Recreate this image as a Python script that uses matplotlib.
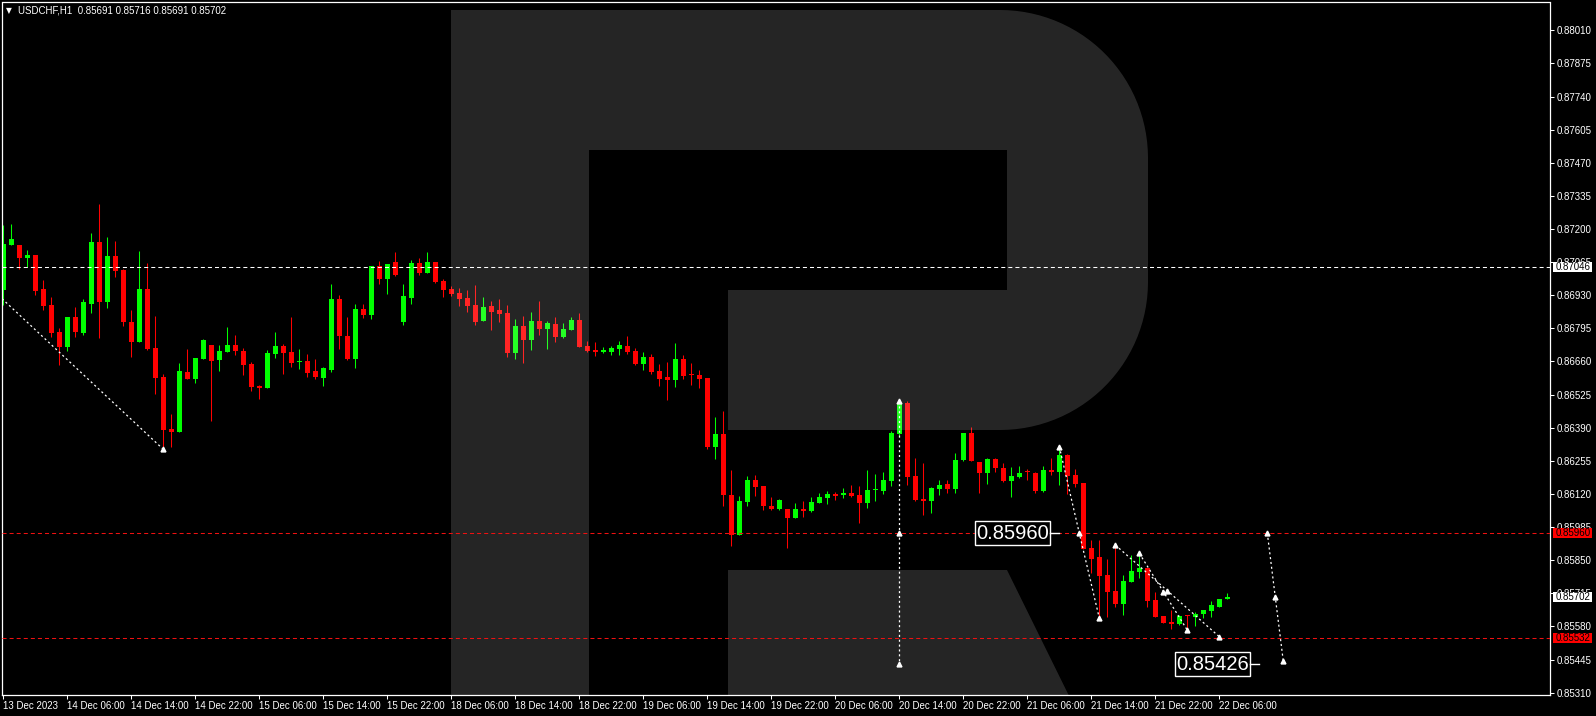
import matplotlib
matplotlib.use('Agg')
import matplotlib.pyplot as plt
from matplotlib.patches import Polygon, Rectangle
import numpy as np

plt.rcParams['lines.scale_dashes'] = False

# ---------------- data (H1 candles, 13 Dec 22:00 .. 22 Dec 07:00) ----------------
opens = [0.86952, 0.87135, 0.87135, 0.87083, 0.87094, 0.86956, 0.86890, 0.86780, 0.86721, 0.86841,
         0.86778, 0.86896, 0.87147, 0.86904, 0.87090, 0.87033, 0.86821, 0.86741, 0.86956, 0.86715,
         0.86597, 0.86385, 0.86374, 0.86617, 0.86590, 0.86672, 0.86727, 0.86668, 0.86700, 0.86727,
         0.86703, 0.86651, 0.86562, 0.86553, 0.86692, 0.86723, 0.86699, 0.86657, 0.86662, 0.86621,
         0.86594, 0.86625, 0.86915, 0.86765, 0.86670, 0.86874, 0.86850, 0.87049, 0.86996, 0.87066,
         0.86821, 0.86920, 0.87062, 0.87022, 0.87066, 0.86988, 0.86956, 0.86939, 0.86919, 0.86890,
         0.86827, 0.86886, 0.86870, 0.86858, 0.86696, 0.86805, 0.86749, 0.86825, 0.86794, 0.86813,
         0.86761, 0.86790, 0.86829, 0.86723, 0.86708, 0.86700, 0.86700, 0.86712, 0.86723, 0.86703,
         0.86651, 0.86678, 0.86621, 0.86598, 0.86586, 0.86670, 0.86606, 0.86605, 0.86593, 0.86313,
         0.86365, 0.86116, 0.85954, 0.86088, 0.86177, 0.86153, 0.86072, 0.86060, 0.86059, 0.86024,
         0.86060, 0.86052, 0.86085, 0.86105, 0.86121, 0.86117, 0.86125, 0.86116, 0.86085, 0.86135,
         0.86132, 0.86173, 0.86365, 0.86491, 0.86193, 0.86100, 0.86091, 0.86140, 0.86161, 0.86140,
         0.86259, 0.86369, 0.86250, 0.86206, 0.86263, 0.86226, 0.86173, 0.86189, 0.86211, 0.86206,
         0.86132, 0.86218, 0.86210, 0.86279, 0.86197, 0.86165, 0.85901, 0.85863, 0.85790, 0.85725,
         0.85673, 0.85763, 0.85803, 0.85820, 0.85688, 0.85623, 0.85598, 0.85590, 0.85624, 0.85620,
         0.85631, 0.85643, 0.85659, 0.85691]
highs = [0.87216, 0.87221, 0.87135, 0.87115, 0.87094, 0.86992, 0.86923, 0.86797, 0.86841, 0.86882,
         0.86915, 0.87184, 0.87302, 0.87168, 0.87151, 0.87038, 0.86870, 0.87111, 0.87062, 0.86846,
         0.86609, 0.86446, 0.86654, 0.86711, 0.86674, 0.86752, 0.86727, 0.86727, 0.86801, 0.86768,
         0.86715, 0.86659, 0.86566, 0.86707, 0.86780, 0.86731, 0.86841, 0.86711, 0.86692, 0.86670,
         0.86638, 0.86976, 0.86931, 0.86841, 0.86894, 0.86894, 0.87049, 0.87070, 0.87058, 0.87106,
         0.86976, 0.87074, 0.87082, 0.87106, 0.87066, 0.86996, 0.86968, 0.86960, 0.86952, 0.86972,
         0.86923, 0.86907, 0.86915, 0.86890, 0.86833, 0.86846, 0.86862, 0.86907, 0.86825, 0.86841,
         0.86817, 0.86841, 0.86858, 0.86744, 0.86740, 0.86719, 0.86725, 0.86744, 0.86764, 0.86715,
         0.86699, 0.86691, 0.86650, 0.86658, 0.86736, 0.86687, 0.86654, 0.86625, 0.86593, 0.86434,
         0.86458, 0.86218, 0.86112, 0.86193, 0.86197, 0.86153, 0.86109, 0.86101, 0.86059, 0.86083,
         0.86093, 0.86109, 0.86125, 0.86134, 0.86130, 0.86146, 0.86157, 0.86153, 0.86219, 0.86203,
         0.86210, 0.86377, 0.86503, 0.86499, 0.86267, 0.86246, 0.86149, 0.86177, 0.86177, 0.86287,
         0.86369, 0.86393, 0.86250, 0.86267, 0.86267, 0.86246, 0.86230, 0.86234, 0.86222, 0.86210,
         0.86234, 0.86267, 0.86312, 0.86283, 0.86222, 0.86165, 0.85932, 0.85932, 0.85855, 0.85909,
         0.85790, 0.85871, 0.85871, 0.85820, 0.85720, 0.85623, 0.85647, 0.85627, 0.85627, 0.85639,
         0.85647, 0.85684, 0.85692, 0.85716]
lows = [0.86890, 0.87135, 0.87037, 0.87044, 0.86931, 0.86870, 0.86760, 0.86647, 0.86703, 0.86761,
        0.86769, 0.86858, 0.86757, 0.86880, 0.87006, 0.86806, 0.86680, 0.86741, 0.86708, 0.86529,
        0.86299, 0.86313, 0.86374, 0.86590, 0.86574, 0.86672, 0.86419, 0.86623, 0.86700, 0.86688,
        0.86606, 0.86541, 0.86509, 0.86553, 0.86676, 0.86611, 0.86639, 0.86631, 0.86598, 0.86590,
        0.86562, 0.86619, 0.86712, 0.86668, 0.86635, 0.86839, 0.86835, 0.86977, 0.86937, 0.87010,
        0.86810, 0.86896, 0.87014, 0.87022, 0.86981, 0.86924, 0.86928, 0.86888, 0.86863, 0.86810,
        0.86827, 0.86790, 0.86822, 0.86680, 0.86672, 0.86655, 0.86708, 0.86769, 0.86712, 0.86741,
        0.86757, 0.86790, 0.86721, 0.86700, 0.86684, 0.86696, 0.86688, 0.86688, 0.86692, 0.86647,
        0.86627, 0.86611, 0.86562, 0.86505, 0.86558, 0.86590, 0.86566, 0.86553, 0.86305, 0.86264,
        0.86072, 0.85906, 0.85954, 0.86072, 0.86113, 0.86056, 0.86056, 0.86056, 0.85901, 0.86024,
        0.86028, 0.86048, 0.86085, 0.86081, 0.86097, 0.86105, 0.86109, 0.86003, 0.86064, 0.86093,
        0.86120, 0.86153, 0.86354, 0.86157, 0.86091, 0.86034, 0.86043, 0.86116, 0.86124, 0.86124,
        0.86255, 0.86255, 0.86124, 0.86161, 0.86210, 0.86168, 0.86108, 0.86185, 0.86177, 0.86124,
        0.86128, 0.86197, 0.86157, 0.86120, 0.86149, 0.85896, 0.85797, 0.85620, 0.85620, 0.85661,
        0.85627, 0.85763, 0.85779, 0.85661, 0.85619, 0.85596, 0.85571, 0.85586, 0.85572, 0.85582,
        0.85615, 0.85619, 0.85659, 0.85691]
closes = [0.87139, 0.87159, 0.87083, 0.87094, 0.86947, 0.86888, 0.86778, 0.86721, 0.86841, 0.86782,
          0.86903, 0.87147, 0.86904, 0.87090, 0.87030, 0.86822, 0.86741, 0.86956, 0.86711, 0.86594,
          0.86382, 0.86374, 0.86621, 0.86590, 0.86674, 0.86748, 0.86663, 0.86703, 0.86727, 0.86703,
          0.86647, 0.86558, 0.86553, 0.86695, 0.86723, 0.86696, 0.86655, 0.86659, 0.86615, 0.86598,
          0.86634, 0.86915, 0.86765, 0.86670, 0.86874, 0.86850, 0.87049, 0.86996, 0.87058, 0.87014,
          0.86927, 0.87062, 0.87022, 0.87066, 0.86984, 0.86953, 0.86937, 0.86915, 0.86888, 0.86822,
          0.86882, 0.86863, 0.86855, 0.86696, 0.86805, 0.86749, 0.86825, 0.86794, 0.86817, 0.86761,
          0.86793, 0.86829, 0.86721, 0.86704, 0.86700, 0.86708, 0.86716, 0.86727, 0.86700, 0.86651,
          0.86678, 0.86619, 0.86590, 0.86586, 0.86670, 0.86602, 0.86604, 0.86590, 0.86313, 0.86365,
          0.86117, 0.85954, 0.86091, 0.86177, 0.86150, 0.86072, 0.86060, 0.86097, 0.86024, 0.86060,
          0.86052, 0.86087, 0.86109, 0.86120, 0.86113, 0.86125, 0.86113, 0.86085, 0.86138, 0.86138,
          0.86177, 0.86369, 0.86491, 0.86189, 0.86096, 0.86091, 0.86144, 0.86157, 0.86140, 0.86259,
          0.86369, 0.86255, 0.86206, 0.86263, 0.86226, 0.86173, 0.86193, 0.86206, 0.86208, 0.86132,
          0.86218, 0.86210, 0.86279, 0.86193, 0.86161, 0.85896, 0.85855, 0.85787, 0.85722, 0.85673,
          0.85765, 0.85806, 0.85820, 0.85684, 0.85619, 0.85596, 0.85590, 0.85623, 0.85621, 0.85631,
          0.85647, 0.85668, 0.85692, 0.85702]

time_labels = ["13 Dec 2023", "14 Dec 06:00", "14 Dec 14:00", "14 Dec 22:00", "15 Dec 06:00",
               "15 Dec 14:00", "15 Dec 22:00", "18 Dec 06:00", "18 Dec 14:00", "18 Dec 22:00",
               "19 Dec 06:00", "19 Dec 14:00", "19 Dec 22:00", "20 Dec 06:00", "20 Dec 14:00",
               "20 Dec 22:00", "21 Dec 06:00", "21 Dec 14:00", "21 Dec 22:00", "22 Dec 06:00"]
time_label_bars = list(range(0, 160, 8))

price_ticks = [0.88010, 0.87875, 0.87740, 0.87605, 0.87470, 0.87335, 0.87200, 0.87065, 0.86930,
               0.86795, 0.86660, 0.86525, 0.86390, 0.86255, 0.86120, 0.85985, 0.85850, 0.85715,
               0.85580, 0.85445, 0.85310]

level_white = 0.87046
level_red = [0.85960, 0.85532]
bid_price = 0.85702

# forecast paths (bar index, price)
path_diag_x = [-0.16, 20.0]
path_diag_y = [0.86916, 0.86302]
path_vert_x = [112, 112, 112]
path_vert_y = [0.86500, 0.85960, 0.85426]
path_a_x = [132, 134.5, 137]
path_a_y = [0.86313, 0.85960, 0.85614]
path_b_x = [139, 145.5, 152]
path_b_y = [0.85912, 0.85726, 0.85538]
path_c_x = [142, 145, 148]
path_c_y = [0.85878, 0.85722, 0.85565]
path_d_x = [158, 159, 160]
path_d_y = [0.85961, 0.85699, 0.85438]

target_labels = ["0.85960", "0.85426"]
target_label_x = [121.5, 146.5]     # left edge (bar index)
target_label_y = [0.85960, 0.85426]

# ---------------- figure ----------------
W, H = 1596, 716
fig = plt.figure(figsize=(W / 100, H / 100), dpi=100, facecolor='black')
ax_l, ax_r, ax_t, ax_b = 2, 1550, 2.5, 695
ax = fig.add_axes([ax_l / W, (H - ax_b) / H, (ax_r - ax_l) / W, (ax_b - ax_t) / H])
ax.set_facecolor('black')

n = len(opens)
xs = np.arange(n)
o = np.array(opens); c = np.array(closes); hi = np.array(highs); lo = np.array(lows)
up = c >= o
col = np.where(up, '#00ff00', '#ff0000')

px_w = 1.0 / 8.0  # bar index per pixel
ax.vlines(xs, lo, hi, colors=col, linewidth=0.75, zorder=2)
body_bottom = np.minimum(o, c)
body_h = np.maximum(np.abs(c - o), 0.000045)
ax.bar(xs, body_h, bottom=body_bottom, width=5 * px_w, color=col, linewidth=0,
       zorder=2.1, antialiased=False)

ax.set_xlim(-0.1625, (ax_r - 3.3) / 8)
ax.set_ylim(0.853006, 0.881233)

# horizontal levels
ax.axhline(level_white, color='white', linewidth=0.75, linestyle=(0, (2.9, 2.2)), zorder=4)
for lv in level_red:
    ax.axhline(lv, color='#ee1111', linewidth=0.75, linestyle=(0, (2.9, 2.2)), zorder=4)

# forecast paths
dash = (0, (1.5, 2.0))
for px_, py_ in [(path_diag_x, path_diag_y), (path_vert_x, path_vert_y), (path_a_x, path_a_y),
                 (path_b_x, path_b_y), (path_c_x, path_c_y), (path_d_x, path_d_y)]:
    ax.plot(px_, py_, color='white', linewidth=0.9, linestyle=dash, zorder=5)
mk_x = [path_diag_x[1]] + path_vert_x + path_a_x + path_b_x + path_c_x + path_d_x
mk_y = [path_diag_y[1]] + path_vert_y + path_a_y + path_b_y + path_c_y + path_d_y
ax.plot(mk_x, mk_y, linestyle='none', marker='^', markersize=3.5, color='white', zorder=6)

# target labels
box_w = 74.4 / 8
box_h = 24 / 24533
for lab, lx, ly in zip(target_labels, target_label_x, target_label_y):
    ax.add_patch(Rectangle((lx, ly - box_h / 2), box_w, box_h, facecolor='black',
                           edgecolor='white', linewidth=1.0, zorder=7))
    ax.text(lx + box_w / 2, ly, lab, color='white', fontsize=14.5, family='Liberation Sans',
            ha='center', va='center', zorder=8)
    ax.plot([lx + box_w, lx + box_w + 1.1], [ly, ly], color='white', linewidth=1.0, zorder=8)

# watermark "R" logo (pixel outline -> axes fraction)
def to_ax(pts):
    return [((px - ax_l) / (ax_r - ax_l), (ax_b - py) / (ax_b - ax_t)) for px, py in pts]

r = 148
th = np.linspace(0, np.pi / 2, 30)
arc1 = [(1000 + r * np.sin(t), 158 - r * np.cos(t)) for t in th]
arc2 = [(1000 + r * np.cos(t), 282 + r * np.sin(t)) for t in th]
upper = [(451, 695), (451, 10), (1000, 10)] + arc1 + arc2 + \
        [(728, 430), (728, 290), (1007, 290), (1007, 150), (589, 150), (589, 695)]
leg = [(728, 570), (1007, 570), (1068.6, 695), (728, 695)]
for poly in (upper, leg):
    ax.add_patch(Polygon(to_ax(poly), closed=True, transform=ax.transAxes, facecolor='white',
                         alpha=0.15, edgecolor='none', zorder=3))

# axes styling
for s in ax.spines.values():
    s.set_color('white')
    s.set_linewidth(0.9)
ax.yaxis.tick_right()
ax.set_yticks(price_ticks)
ax.set_yticklabels([f"{p:.5f}" for p in price_ticks])
ax.tick_params(axis='y', colors='white', length=3, width=0.75, pad=2, labelsize=7)
ax.set_xticks(time_label_bars)
ax.set_xticklabels(time_labels)
ax.tick_params(axis='x', colors='white', length=3, width=0.75, pad=1.5, labelsize=7)
for lab in ax.get_xticklabels():
    lab.set_ha('left')
    lab.set_family('Liberation Sans')
for lab in ax.get_yticklabels():
    lab.set_family('Liberation Sans')

# price-scale labels
ytr = ax.get_yaxis_transform()
bx0 = (1552.7 - ax_l) / (ax_r - ax_l)
bw = (1591.7 - 1552.7) / (ax_r - ax_l)
bh = 10 / 24533
for price, fc in [(level_white, 'white'), (level_red[0], '#ff0000'), (level_red[1], '#ff0000'),
                  (bid_price, 'white')]:
    ax.add_patch(Rectangle((bx0, price - bh / 2), bw, bh, transform=ytr, facecolor=fc,
                           edgecolor='none', clip_on=False, zorder=9))
    ax.text(bx0 + 2.5 / (ax_r - ax_l), price, f"{price:.5f}", transform=ytr, color='black',
            fontsize=7, family='Liberation Sans', ha='left', va='center', clip_on=False, zorder=10)

# header
fig.text(6 / W, 1 - 10.5 / H, "\u25BC", color='white', fontsize=5.5, family='DejaVu Sans',
         ha='left', va='center')
fig.text(17.5 / W, 1 - 10.5 / H, "USDCHF,H1  0.85691 0.85716 0.85691 0.85702", color='white',
         fontsize=7, family='Liberation Sans', ha='left', va='center')

fig.savefig('out.png', dpi=100, facecolor='black')
